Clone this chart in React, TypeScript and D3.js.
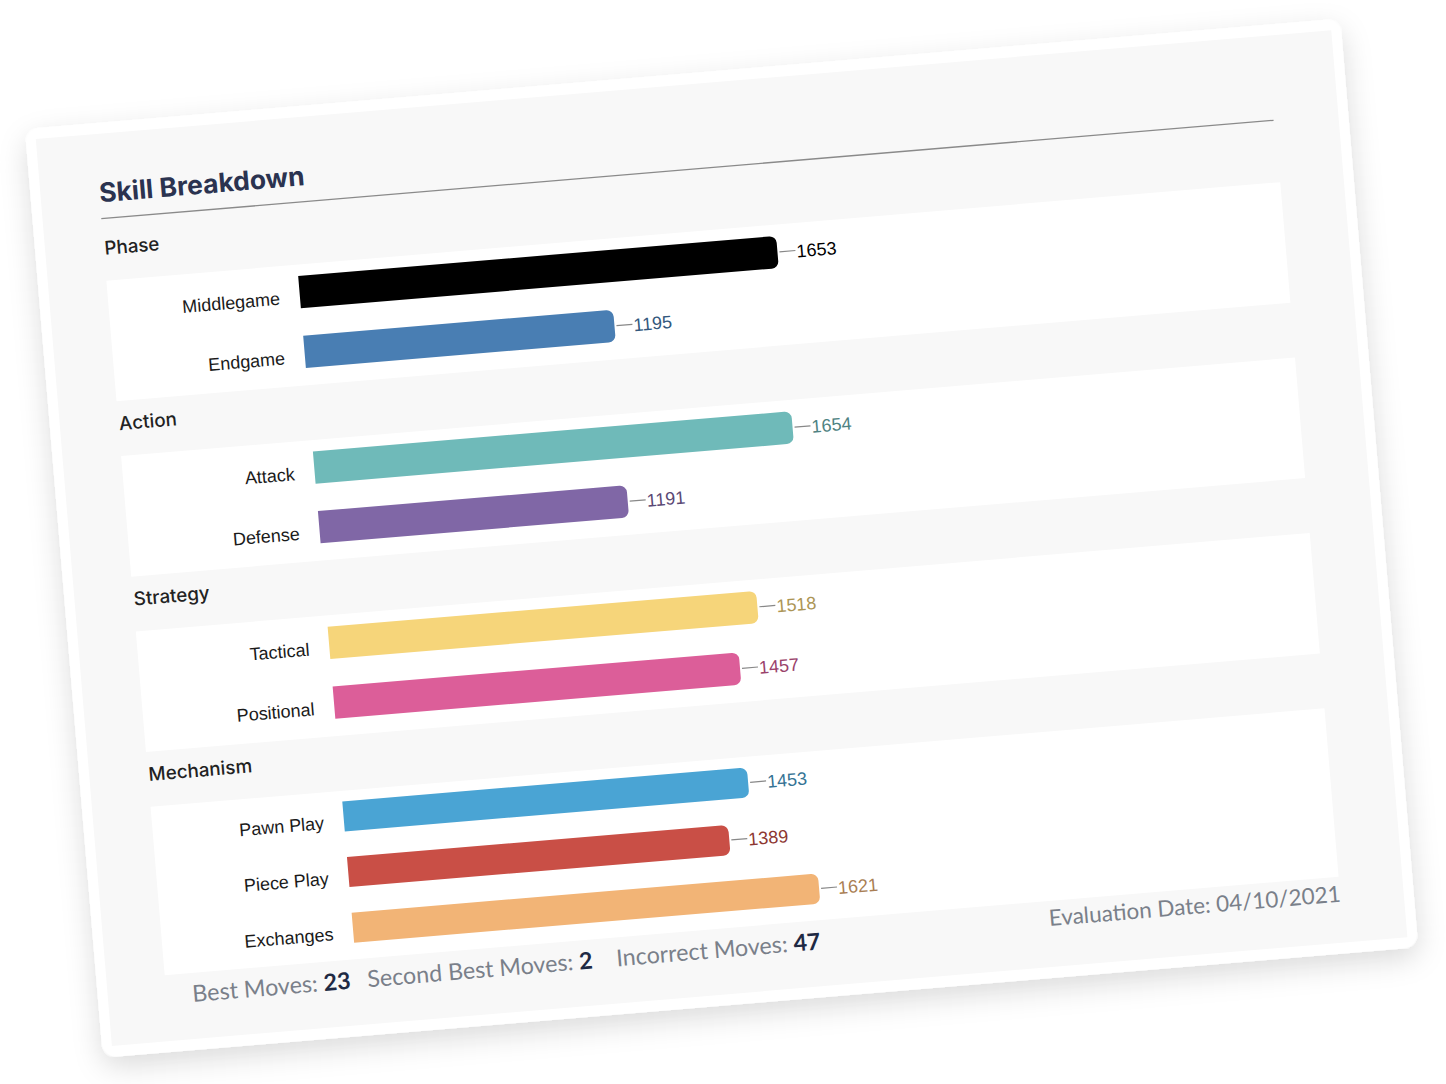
import React from 'react';
import * as d3 from 'd3';

// chart data
const groupNames = ['Phase', 'Action', 'Strategy', 'Mechanism'];
const skillNames = ['Middlegame', 'Endgame', 'Attack', 'Defense', 'Tactical', 'Positional', 'Pawn Play', 'Piece Play', 'Exchanges'];
const skillGroups = ['Phase', 'Phase', 'Action', 'Action', 'Strategy', 'Strategy', 'Mechanism', 'Mechanism', 'Mechanism'];
const skillRatings = [1653, 1195, 1654, 1191, 1518, 1457, 1453, 1389, 1621];
const barColors = ['#000000', '#497eb3', '#6fbab9', '#8067a6', '#f6d57a', '#dc5e99', '#4aa4d4', '#c94f46', '#f2b476'];
const footerLabels = ['Best Moves:', 'Second Best Moves:', 'Incorrect Moves:'];
const footerCounts = [23, 2, 47];
const evaluationDate = '04/10/2021';

const W = 1446;
const H = 1084;
const CARD_W = 1320;
const CARD_H = 932;
const BAND_L = 68.5;
const BAND_R = 1246.5;
const BAR_X = 260;
const FIRST_BAND = 158;
const GROUP_GAP = 55;
const footerX = [94.5, 270, 520];

const titleFont = 'Inter, Lato, sans-serif';
const uiFont = 'Lato, "Open Sans", sans-serif';
const chartFont = '"Liberation Sans", Arial, sans-serif';

// bar with only the right end rounded
function barPath(x: number, y: number, w: number, h: number, r: number) {
  const rr = Math.min(r, w, h / 2);
  return `M${x},${y}H${x + w - rr}A${rr},${rr} 0 0 1 ${x + w},${y + rr}V${y + h - rr}A${rr},${rr} 0 0 1 ${x + w - rr},${y + h}H${x}Z`;
}

export default function App() {
  const x = d3.scaleLinear().domain([350, 1654]).range([0, 480]);

  let top = FIRST_BAND;
  const blocks = groupNames.map((g) => {
    const names = skillNames.filter((_, i) => skillGroups[i] === g);
    const inner = 48 * names.length + 19;
    const y = d3.scaleBand<string>().domain(names).range([0, inner]).paddingInner(0.46).paddingOuter(0.19);
    const block = { g, names, y, top, height: inner + 6 };
    top += inner + 6 + GROUP_GAP;
    return block;
  });

  return (
    <svg width={W} height={H} style={{ position: 'absolute', left: 0, top: 0, display: 'block', background: '#fff' }}>
      <defs>
        <filter id="cardShadow" x="-10%" y="-10%" width="120%" height="130%">
          <feDropShadow dx="0" dy="10" stdDeviation="14" floodColor="#000" floodOpacity="0.14" />
        </filter>
      </defs>
      <g transform="translate(24.9,129) rotate(-4.8)">
        <rect width={CARD_W} height={CARD_H} rx={14} fill="#fff" filter="url(#cardShadow)" />
        <rect x={10} y={11} width={CARD_W - 20} height={CARD_H - 22} fill="#f8f8f8" />

        <text x={68.6} y={79.4} fontFamily={titleFont} fontWeight={700} fontSize={26.5} fill="#2b3350">Skill Breakdown</text>
        <line x1={68.6} x2={1245} y1={95.8} y2={95.8} stroke="#8a8a8a" strokeWidth={1.3} />

        {blocks.map((b) => (
          <g key={b.g} transform={`translate(0,${b.top})`}>
            <text x={69.2} y={-26} fontFamily={titleFont} fontWeight={500} fontSize={18.8} fill="#222">{b.g}</text>
            <rect x={BAND_L} y={0} width={BAND_R - BAND_L} height={b.height} fill="#fff" />
            {b.names.map((n) => {
              const i = skillNames.indexOf(n);
              const v = skillRatings[i];
              const c = barColors[i];
              const w = x(v);
              const yc = (b.y(n) as number) + b.y.bandwidth() / 2;
              const bh = b.y.bandwidth();
              const textColor = d3.color(c)!.darker(1).formatHex();
              return (
                <g key={n}>
                  <text x={BAR_X - 20} y={yc + 5} textAnchor="end" dominantBaseline="central" fontFamily={chartFont} fontSize={18} fill="#1a1a1a">{n}</text>
                  <path d={barPath(BAR_X, yc - bh / 2, w, bh, 7)} fill={c} />
                  <line x1={BAR_X + w + 2} x2={BAR_X + w + 18} y1={yc} y2={yc} stroke="#888" strokeWidth={1.2} />
                  <text x={BAR_X + w + 19} y={yc + 1} dominantBaseline="central" fontFamily={chartFont} fontSize={18} fill={textColor}>{v}</text>
                </g>
              );
            })}
          </g>
        ))}

        {footerLabels.map((l, i) => (
          <text key={l} x={footerX[i]} y={884} fontFamily={uiFont} fontSize={23.3} fill="#7a808a">
            {l} <tspan fontWeight={700} fill="#1f2a44">{footerCounts[i]}</tspan>
          </text>
        ))}
        <text x={1247} y={880} textAnchor="end" fontFamily={uiFont} fontSize={22.5} fill="#7a808a">Evaluation Date: {evaluationDate}</text>
      </g>
    </svg>
  );
}
